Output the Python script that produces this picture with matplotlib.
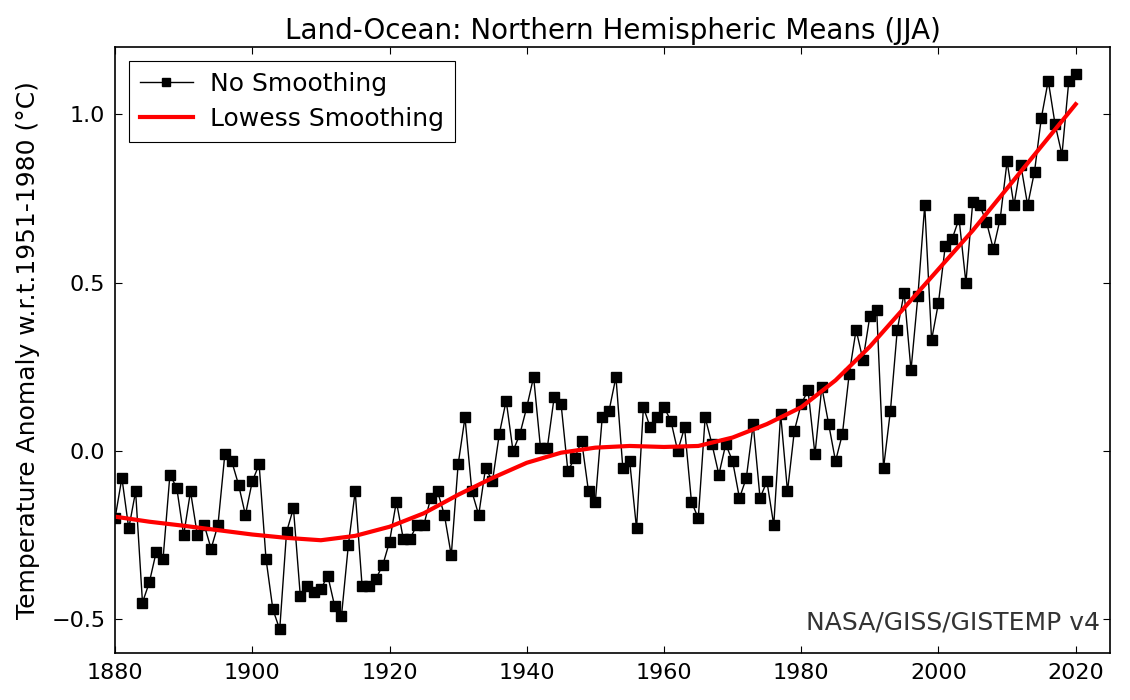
import numpy as np
import matplotlib
matplotlib.use('Agg')
import matplotlib.pyplot as plt


# Annual JJA anomalies, Northern Hemisphere
years = np.arange(1880, 2021)
anom = [-0.20, -0.08, -0.23, -0.12, -0.45, -0.39, -0.30, -0.32, -0.07, -0.11,
        -0.25, -0.12, -0.25, -0.22, -0.29, -0.22, -0.01, -0.03, -0.10, -0.19,
        -0.09, -0.04, -0.32, -0.47, -0.53, -0.24, -0.17, -0.43, -0.40, -0.42,
        -0.41, -0.37, -0.46, -0.49, -0.28, -0.12, -0.40, -0.40, -0.38, -0.34,
        -0.27, -0.15, -0.26, -0.26, -0.22, -0.22, -0.14, -0.12, -0.19, -0.31,
        -0.04, 0.10, -0.12, -0.19, -0.05, -0.09, 0.05, 0.15, 0.00, 0.05,
        0.13, 0.22, 0.01, 0.01, 0.16, 0.14, -0.06, -0.02, 0.03, -0.12,
        -0.15, 0.10, 0.12, 0.22, -0.05, -0.03, -0.23, 0.13, 0.07, 0.10,
        0.13, 0.09, 0.00, 0.07, -0.15, -0.20, 0.10, 0.02, -0.07, 0.02,
        -0.03, -0.14, -0.08, 0.08, -0.14, -0.09, -0.22, 0.11, -0.12, 0.06,
        0.14, 0.18, -0.01, 0.19, 0.08, -0.03, 0.05, 0.23, 0.36, 0.27,
        0.40, 0.42, -0.05, 0.12, 0.36, 0.47, 0.24, 0.46, 0.73, 0.33,
        0.44, 0.61, 0.63, 0.69, 0.50, 0.74, 0.73, 0.68, 0.60, 0.69,
        0.86, 0.73, 0.85, 0.73, 0.83, 0.99, 1.10, 0.97, 0.88, 1.10,
        1.12]

# Lowess curve, read every 5 years
smooth_years = np.arange(1880, 2021, 5)
smooth = [-0.195, -0.21, -0.222, -0.235, -0.248, -0.258, -0.265, -0.252,
          -0.225, -0.185, -0.13, -0.08, -0.035, -0.005, 0.01, 0.015,
          0.012, 0.015, 0.04, 0.08, 0.13, 0.21, 0.31, 0.425, 0.54,
          0.655, 0.78, 0.905, 1.03]


plt.rcParams['font.family'] = 'DejaVu Sans'
plt.rcParams['xtick.direction'] = 'in'
plt.rcParams['ytick.direction'] = 'in'

fig = plt.figure(figsize=(11.3, 7), dpi=100)
ax = fig.add_axes([0.1018, 0.0671, 0.8805, 0.8658])

ax.plot(years, anom, color='black', lw=1, marker='s', ms=7,
        label='No Smoothing')
ax.plot(smooth_years, smooth, color='red', lw=3, label='Lowess Smoothing')

ax.set_xlim(1880, 2025)
ax.set_ylim(-0.6, 1.2)
ax.set_xticks([1880, 1900, 1920, 1940, 1960, 1980, 2000, 2020])
ax.set_yticks([-0.5, 0.0, 0.5, 1.0])
ax.set_yticklabels(['\u22120.5', '0.0', '0.5', '1.0'])
ax.tick_params(labelsize=16, length=5, width=0.8, top=True, right=True, pad=7)
for s in ax.spines.values():
    s.set_linewidth(1.2)

ax.set_title('Land-Ocean: Northern Hemispheric Means (JJA)', fontsize=20, pad=6)
ax.set_ylabel('Temperature Anomaly w.r.t.1951-1980 (\u00b0C)', fontsize=18,
              labelpad=8)
ax.text(0.99, 0.03, 'NASA/GISS/GISTEMP v4', transform=ax.transAxes,
        ha='right', va='bottom', fontsize=18, color='#333333')

leg = ax.legend(loc='upper left', fontsize=18, fancybox=False, framealpha=1,
                edgecolor='black', borderaxespad=0.55, handlelength=2.1,
                handletextpad=0.7, labelspacing=0.45, borderpad=0.45)
leg.get_frame().set_linewidth(0.8)
leg.legend_handles[0].set_markersize(6)

fig.savefig('out.png', dpi=100)
